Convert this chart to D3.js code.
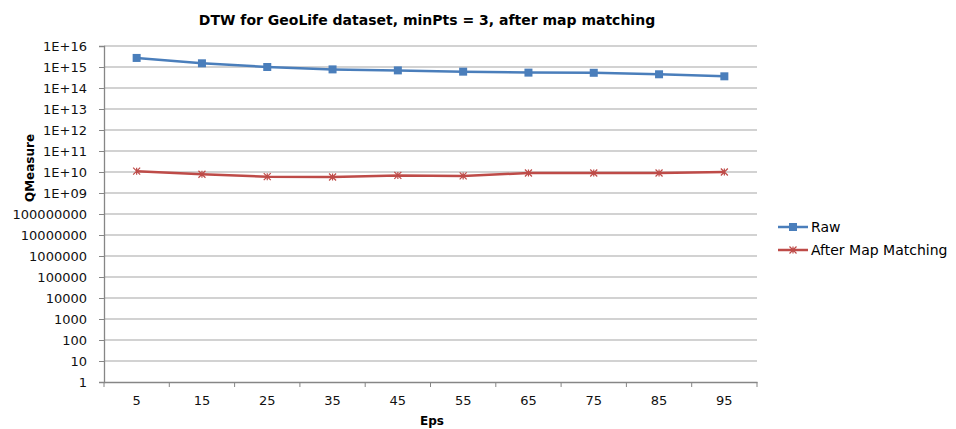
<!DOCTYPE html>
<html>
<head>
<meta charset="utf-8">
<script src="https://cdn.jsdelivr.net/npm/d3@7"></script>
<style>
  body { margin: 0; background: #fff; }
  text { font-family: "DejaVu Sans", sans-serif; fill: #000; }
</style>
</head>
<body>
<div id="chart"></div>
<script>
const eps = ['5', '15', '25', '35', '45', '55', '65', '75', '85', '95'];
const raw = [2.7e15, 1.5e15, 1.0e15, 7.7e14, 6.9e14, 6.0e14, 5.4e14, 5.3e14, 4.5e14, 3.6e14];
const afterMM = [1.1e10, 7.8e9, 6.0e9, 5.8e9, 6.9e9, 6.5e9, 9.0e9, 9.0e9, 9.0e9, 1.0e10];
const yTicks = [1, 10, 100, 1000, 1e4, 1e5, 1e6, 1e7, 1e8, 1e9, 1e10, 1e11, 1e12, 1e13, 1e14, 1e15, 1e16];

const tickLabel = v => {
  const p = Math.round(Math.log10(v));
  if (p >= 9) return '1E+' + (p < 10 ? '0' + p : p);
  return String(Math.round(v));
};

const width = 956, height = 429,
      margin = {top: 46, left: 104, right: 199, bottom: 47};

const svg = d3.select('#chart').append('svg')
  .attr('width', width)
  .attr('height', height);

const x = d3.scaleBand()
  .domain(eps)
  .range([margin.left, width - margin.right]);

const y = d3.scaleLog()
  .domain([1, 1e16])
  .range([height - margin.bottom, margin.top]);

// gridlines
svg.append('g')
  .selectAll('line')
  .data(yTicks.slice(1))
  .enter()
  .append('line')
    .attr('x1', margin.left)
    .attr('x2', width - margin.right)
    .attr('y1', d => y(d))
    .attr('y2', d => y(d))
    .attr('stroke', '#c3c3c3')
    .attr('stroke-width', 1.3);

// y axis
const yAxis = d3.axisLeft(y)
  .tickValues(yTicks)
  .tickFormat(tickLabel)
  .tickSize(5)
  .tickPadding(12);

const gy = svg.append('g')
  .attr('transform', 'translate(' + margin.left + ',0)')
  .call(yAxis);
gy.selectAll('text').style('font-size', '13px').style('fill', '#111');

// x axis
const xAxis = d3.axisBottom(x)
  .tickSize(0)
  .tickPadding(14);

const gx = svg.append('g')
  .attr('transform', 'translate(0,' + (height - margin.bottom) + ')')
  .call(xAxis);
gx.selectAll('text').style('font-size', '13px').style('fill', '#111');

// category boundary ticks
svg.append('g')
  .selectAll('line')
  .data(eps.concat(['end']))
  .enter()
  .append('line')
    .attr('x1', (d, i) => margin.left + i * x.step())
    .attr('x2', (d, i) => margin.left + i * x.step())
    .attr('y1', height - margin.bottom)
    .attr('y2', height - margin.bottom + 5)
    .attr('stroke', '#868686');

svg.selectAll('.domain').attr('stroke', '#868686').attr('stroke-width', 1.3);
svg.selectAll('.tick line').attr('stroke', '#868686');

// series
const line = d3.line()
  .x((d, i) => x(eps[i]) + x.bandwidth() / 2)
  .y(d => y(d));

svg.append('path')
  .datum(raw)
  .attr('d', line)
  .attr('fill', 'none')
  .attr('stroke', '#4a7ebb')
  .attr('stroke-width', 2.5);

svg.append('g')
  .selectAll('rect')
  .data(raw)
  .enter()
  .append('rect')
    .attr('x', (d, i) => x(eps[i]) + x.bandwidth() / 2 - 4)
    .attr('y', d => y(d) - 4)
    .attr('width', 8)
    .attr('height', 8)
    .attr('fill', '#4a7ebb');

svg.append('path')
  .datum(afterMM)
  .attr('d', line)
  .attr('fill', 'none')
  .attr('stroke', '#be4b48')
  .attr('stroke-width', 2.5);

const star = (cx, cy, r) =>
  'M' + (cx - r) + ',' + (cy - r) + 'L' + (cx + r) + ',' + (cy + r) +
  'M' + (cx - r) + ',' + (cy + r) + 'L' + (cx + r) + ',' + (cy - r) +
  'M' + cx + ',' + (cy - r) + 'L' + cx + ',' + (cy + r);

svg.append('g')
  .selectAll('path')
  .data(afterMM)
  .enter()
  .append('path')
    .attr('d', (d, i) => star(x(eps[i]) + x.bandwidth() / 2, y(d), 3.5))
    .attr('stroke', '#be4b48')
    .attr('stroke-width', 1.2)
    .attr('fill', 'none');

// legend
const legend = svg.append('g');
legend.append('line')
  .attr('x1', 778).attr('x2', 808).attr('y1', 227).attr('y2', 227)
  .attr('stroke', '#4a7ebb').attr('stroke-width', 2.5);
legend.append('rect')
  .attr('x', 789).attr('y', 223).attr('width', 8).attr('height', 8)
  .attr('fill', '#4a7ebb');
legend.append('text')
  .attr('x', 811).attr('y', 232)
  .style('font-size', '14px')
  .text('Raw');

legend.append('line')
  .attr('x1', 778).attr('x2', 808).attr('y1', 250).attr('y2', 250)
  .attr('stroke', '#be4b48').attr('stroke-width', 2.5);
legend.append('path')
  .attr('d', star(793, 250, 3.5))
  .attr('stroke', '#be4b48').attr('stroke-width', 1.2);
legend.append('text')
  .attr('x', 811).attr('y', 255)
  .style('font-size', '14px')
  .text('After Map Matching');

// titles
svg.append('text')
  .attr('x', 427)
  .attr('y', 25)
  .style('text-anchor', 'middle')
  .style('font-size', '14px')
  .style('font-weight', 'bold')
  .text('DTW for GeoLife dataset, minPts = 3, after map matching');

svg.append('text')
  .attr('x', 432)
  .attr('y', 425)
  .style('text-anchor', 'middle')
  .style('font-size', '12px')
  .style('font-weight', 'bold')
  .text('Eps');

svg.append('text')
  .attr('transform', 'rotate(-90)')
  .attr('x', -168)
  .attr('y', 34)
  .style('text-anchor', 'middle')
  .style('font-size', '12px')
  .style('font-weight', 'bold')
  .text('QMeasure');
</script>
</body>
</html>
